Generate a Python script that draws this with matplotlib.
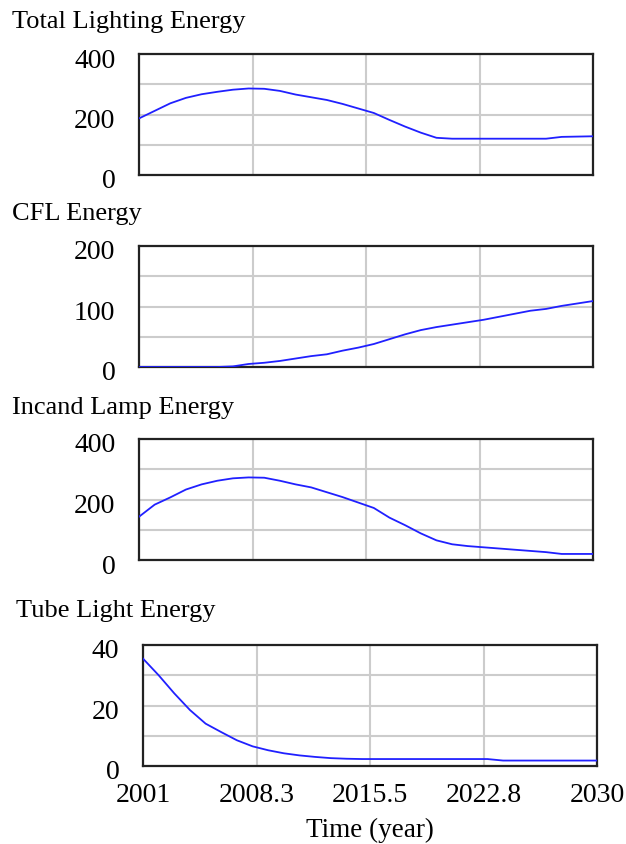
import matplotlib
matplotlib.use("Agg")
import matplotlib.pyplot as plt
import matplotlib.transforms as mtransforms
import numpy as np

years = list(range(2001, 2031))

total_energy = [187, 212, 237, 255, 267, 275, 282, 286, 285, 278,
                266, 257, 248, 235, 220, 205, 182, 160, 140, 123,
                120, 120, 120, 120, 120, 120, 120, 126, 127, 128]

cfl_energy = [0, 0, 0, 0, 0, 0, 1, 5, 7, 10,
              14, 18, 21, 27, 32, 38, 46, 54, 61, 66,
              70, 74, 78, 83, 88, 93, 96, 101, 105, 109]

incand_energy = [143, 183, 207, 233, 250, 262, 270, 273, 272, 262,
                 250, 240, 224, 208, 190, 172, 140, 115, 88, 65,
                 52, 46, 42, 38, 34, 30, 26, 20, 20, 20]

tube_energy = [35.5, 30, 24, 18.5, 14, 11.2, 8.5, 6.5, 5.2, 4.2,
               3.5, 3.0, 2.6, 2.4, 2.3, 2.3, 2.3, 2.3, 2.3, 2.3,
               2.3, 2.3, 2.3, 1.8, 1.8, 1.8, 1.8, 1.8, 1.8, 1.8]

titles = ["Total Lighting Energy", "CFL Energy", "Incand Lamp Energy", "Tube Light Energy"]
ymaxes = [400, 200, 400, 40]
series = [total_energy, cfl_energy, incand_energy, tube_energy]
xticks = [2001, 2008.25, 2015.5, 2022.75, 2030]
xtick_labels = ["2001", "2008.3", "2015.5", "2022.8", "2030"]
xlabel = "Time (year)"

W, H = 626, 845
fig = plt.figure(figsize=(W / 100, H / 100), dpi=100)
plt.rcParams['font.family'] = ['Liberation Serif', 'DejaVu Serif']

# axes boxes in pixels: left, top, right, bottom
boxes = [(139, 55, 593, 176), (139, 247, 593, 368), (139, 440, 593, 561), (143, 646, 597, 767)]
title_pos = [(12, 22), (12, 214), (12, 408), (16, 611)]

for i, (ttl, ymax, vals) in enumerate(zip(titles, ymaxes, series)):
    l, t, r, b = boxes[i]
    ax = fig.add_axes([l / W, 1 - b / H, (r - l) / W, (b - t) / H])
    ax.plot(years, vals, color='#2020ff', lw=1.3, zorder=3)
    ax.set_xlim(2001, 2030)
    ax.set_ylim(0, ymax)
    yt = [0, ymax / 4, ymax / 2, 3 * ymax / 4, ymax]
    ax.set_yticks(yt)
    ax.set_yticklabels([f"{int(v)}" if k % 2 == 0 else "" for k, v in enumerate(yt)], fontsize=20)
    ax.set_xticks(xticks)
    if i == 3:
        ax.set_xticklabels(xtick_labels, fontsize=20)
        ax.set_xlabel(xlabel, fontsize=19.5, labelpad=7)
    else:
        ax.set_xticklabels([])
    ax.tick_params(length=0)
    ax.tick_params(axis='y', pad=17)
    ax.tick_params(axis='x', pad=11.5)
    ax.grid(True, color='#cccccc', lw=1.5, zorder=0)
    for s in ax.spines.values():
        s.set_linewidth(1.6)
        s.set_color('#222222')
    off = mtransforms.ScaledTranslation(0, -3 / 100, fig.dpi_scale_trans)
    for lab in ax.get_yticklabels():
        lab.set_transform(lab.get_transform() + off)
    fig.text(title_pos[i][0] / W, 1 - title_pos[i][1] / H, ttl, fontsize=19,
             ha='left', va='center')

fig.savefig("out.png", dpi=100)
